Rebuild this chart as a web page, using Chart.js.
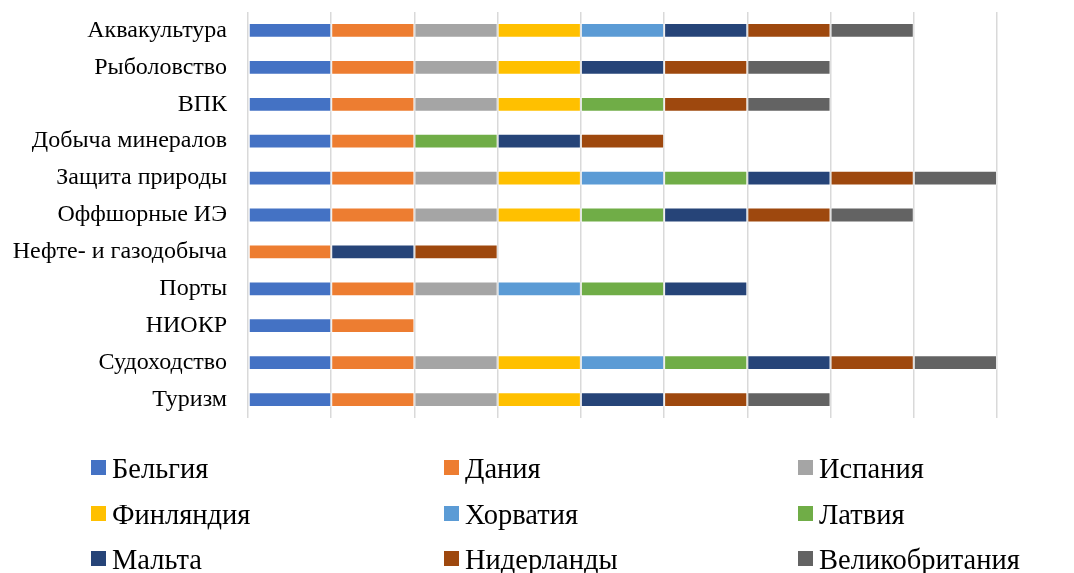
<!DOCTYPE html>
<html>
<head>
<meta charset="utf-8">
<script src="https://cdn.jsdelivr.net/npm/chart.js@4/dist/chart.umd.min.js"></script>
<style>
  html, body { margin: 0; padding: 0; background: #fff; }
  #wrap { position: relative; width: 1074px; height: 573px; }
  #legend { position: absolute; left: 0; top: 0; width: 1074px; height: 573px; pointer-events: none;
            font-family: "Liberation Serif", "Times New Roman", serif; font-size: 28.5px; color: #000; }
  .item { position: absolute; display: flex; align-items: center; white-space: nowrap; }
  .box { width: 15px; height: 15px; margin-right: 6px; }
  .txt { position: relative; top: 2px; }
</style>
</head>
<body>
<div id="wrap">
  <canvas id="chart" width="1074" height="573"></canvas>
  <div id="legend"></div>
</div>
<script>
const categories = ['Аквакультура', 'Рыболовство', 'ВПК', 'Добыча минералов', 'Защита природы',
  'Оффшорные ИЭ', 'Нефте- и газодобыча', 'Порты', 'НИОКР', 'Судоходство', 'Туризм'];

const belgium     = [1, 1, 1, 1, 1, 1, 0, 1, 1, 1, 1];
const denmark     = [1, 1, 1, 1, 1, 1, 1, 1, 1, 1, 1];
const spain       = [1, 1, 1, 0, 1, 1, 0, 1, 0, 1, 1];
const finland     = [1, 1, 1, 0, 1, 1, 0, 0, 0, 1, 1];
const croatia     = [1, 0, 0, 0, 1, 0, 0, 1, 0, 1, 0];
const latvia      = [0, 0, 1, 1, 1, 1, 0, 1, 0, 1, 0];
const malta       = [1, 1, 0, 1, 1, 1, 1, 1, 0, 1, 1];
const netherlands = [1, 1, 1, 1, 1, 1, 1, 0, 0, 1, 1];
const uk          = [1, 1, 1, 0, 1, 1, 0, 0, 0, 1, 1];

const seriesNames = ['Бельгия', 'Дания', 'Испания', 'Финляндия', 'Хорватия', 'Латвия',
  'Мальта', 'Нидерланды', 'Великобритания'];
const seriesData = [belgium, denmark, spain, finland, croatia, latvia, malta, netherlands, uk];
const colors = ['#4472C4', '#ED7D31', '#A5A5A5', '#FFC000', '#5B9BD5', '#70AD47',
  '#264478', '#9E480E', '#636363'];

const serif = '"Liberation Serif", "Times New Roman", serif';

const chart = new Chart(document.getElementById('chart').getContext('2d'), {
  type: 'bar',
  data: {
    labels: categories,
    datasets: seriesNames.map((name, i) => ({
      label: name,
      data: seriesData[i],
      backgroundColor: colors[i],
      borderColor: 'rgba(255,255,255,0.35)',
      borderWidth: 1,
      borderSkipped: false,
      categoryPercentage: 1,
      barPercentage: 0.4
    }))
  },
  options: {
    indexAxis: 'y',
    responsive: false,
    animation: false,
    layout: { padding: { left: 0, right: 77, top: 12, bottom: 155 } },
    plugins: {
      legend: { display: false },
      tooltip: { enabled: false }
    },
    scales: {
      x: {
        stacked: true,
        min: 0,
        max: 9,
        ticks: { display: false, stepSize: 1 },
        grid: { color: '#d9d9d9', lineWidth: 1.5, drawTicks: false },
        border: { display: false },
        afterFit: s => { s.height = 0; }
      },
      y: {
        stacked: true,
        grid: { display: false, drawTicks: false },
        border: { display: false },
        ticks: { color: '#000', padding: 21, font: { family: serif, size: 24 } },
        afterFit: s => { s.width = 248; s.paddingTop = 0; s.paddingBottom = 0; }
      }
    }
  }
});

// legend in three columns, like the original
const legendEl = document.getElementById('legend');
const colX = [91, 444, 798];
const rowY = [467, 513, 558];
seriesNames.forEach((name, i) => {
  const item = document.createElement('div');
  item.className = 'item';
  item.style.left = colX[i % 3] + 'px';
  item.style.top = (rowY[Math.floor(i / 3)] - 20) + 'px';
  item.style.height = '40px';
  const box = document.createElement('span');
  box.className = 'box';
  box.style.background = colors[i];
  const txt = document.createElement('span');
  txt.className = 'txt';
  txt.textContent = name;
  item.appendChild(box);
  item.appendChild(txt);
  legendEl.appendChild(item);
});
</script>
</body>
</html>
